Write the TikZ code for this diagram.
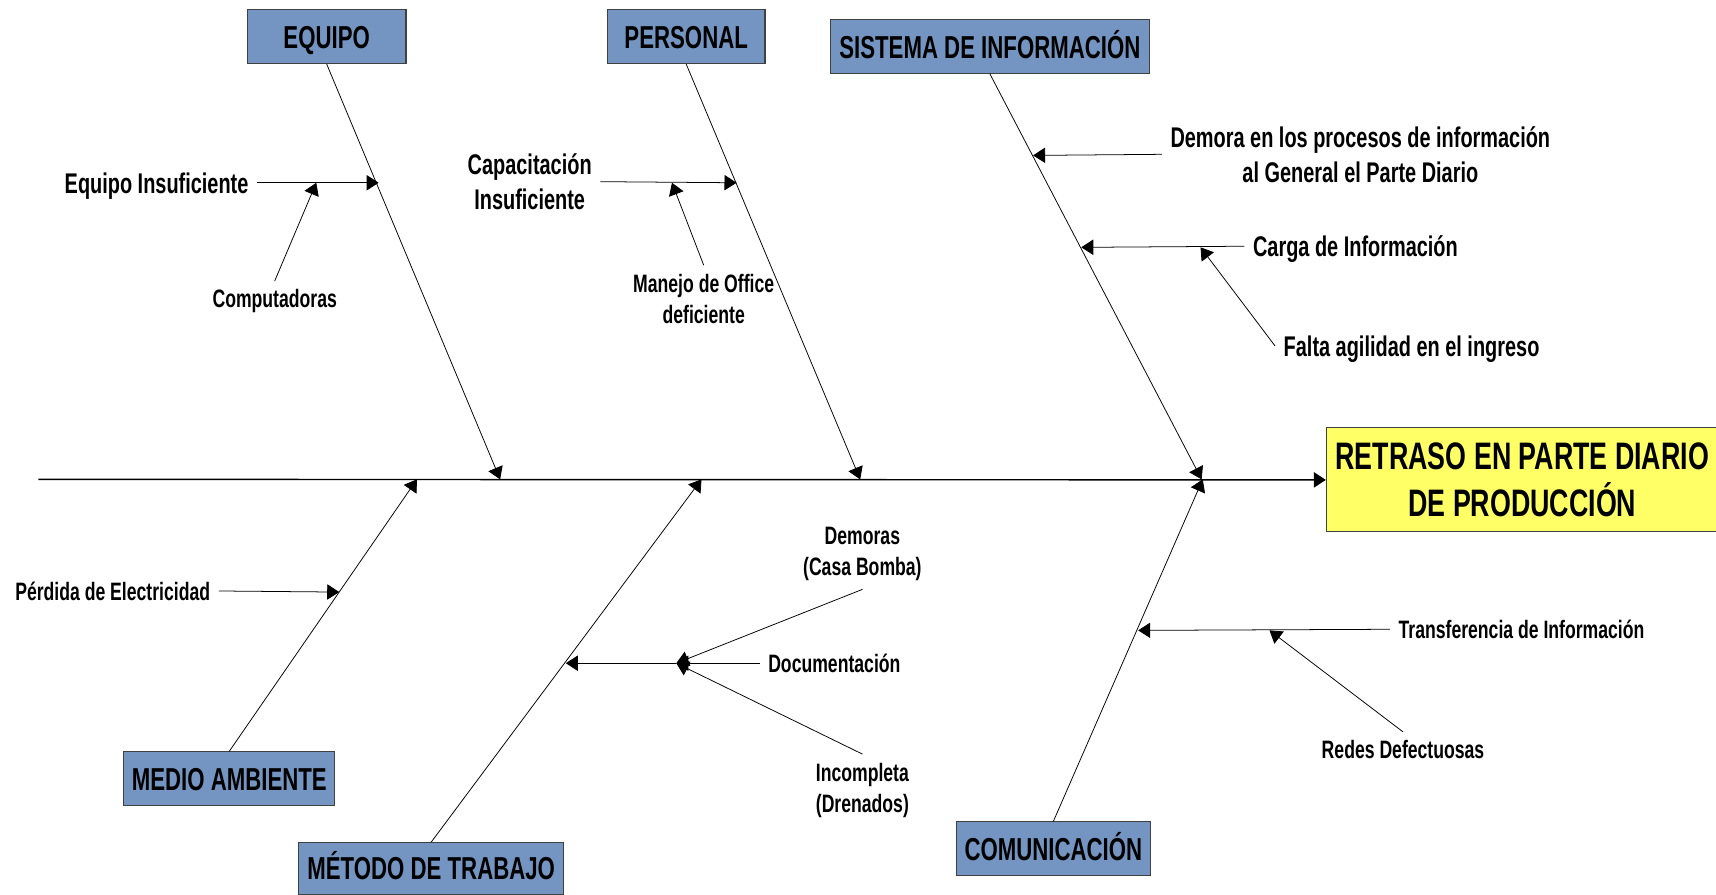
\documentclass[tikz,border=0pt]{standalone}
\usepackage{fontspec}
\setmainfont{Liberation Sans}[FakeStretch=0.7]
\usetikzlibrary{arrows.meta}
\definecolor{catblue}{RGB}{116,149,193}
\definecolor{effyellow}{RGB}{255,255,102}
\begin{document}
\begin{tikzpicture}[x=1pt, y=-1pt, >={Triangle[length=11pt,width=14pt]}, line width=0.7pt,
  cat/.style={draw=black!75, fill=catblue, line width=1pt, minimum height=49pt, inner sep=2pt, text height=21pt, text depth=0pt, font=\bfseries\fontsize{29}{34}\selectfont},
  eff/.style={draw=black!75, fill=effyellow, line width=1pt, minimum height=95pt, minimum width=358pt, align=center, font=\bfseries\fontsize{35}{43}\selectfont},
  cause/.style={align=center, inner sep=4pt, outer sep=4pt, font=\bfseries\fontsize{26}{32}\selectfont},
  subcause/.style={align=center, inner sep=4pt, outer sep=4pt, font=\bfseries\fontsize{23}{28.5}\selectfont},
  oneline/.style={text height=#1, text depth=0pt}]
\useasboundingbox (0,0) rectangle (1568,817);
\node[cat, minimum width=145pt] (eq) at (298.5,33.5) {EQUIPO};
\node[cat, minimum width=144pt] (pe) at (627,33.5) {PERSONAL};
\node[cat, minimum width=291pt] (si) at (904.5,42.5) {SISTEMA DE INFORMACIÓN};
\node[cat, minimum width=193pt] (ma) at (209.5,711.5) {MEDIO AMBIENTE};
\node[cat, minimum width=242pt, minimum height=47pt] (mt) at (394,793.5) {MÉTODO DE TRABAJO};
\node[cat, minimum width=177pt] (co) at (962.5,775.5) {COMUNICACIÓN};
\node[eff] (ef) at (1391,438.5) {RETRASO EN PARTE DIARIO\\DE PRODUCCIÓN};
\coordinate (tail) at (35,438);
\coordinate (cE) at (457,438); \coordinate (cP) at (786,438); \coordinate (cS) at (1098,438);
\coordinate (cM) at (381,438); \coordinate (cT) at (641,438); \coordinate (cC) at (1099,438);
\draw[->, line width=1.3pt] (tail) -- (ef.west);
\draw[->] (eq.south) -- (cE); \draw[->] (pe.south) -- (cP); \draw[->] (si.south) -- (cS);
\draw[->] (ma.north) -- (cM); \draw[->] (mt.north) -- (cT); \draw[->] (co.north) -- (cC);
\node[cause, oneline=19pt, anchor=east] (e1) at (235,167) {Equipo Insuficiente};
\node[subcause, oneline=16.5pt] (e2) at (251,273) {Computadoras};
\coordinate (bE) at (346,167); \coordinate (hE) at (289,167);
\draw[->] (e1.east) -- (bE); \draw[->] (e2.north) -- (hE);
\node[cause] (p1) at (484,166) {Capacitación\\Insuficiente};
\node[subcause] (p2) at (643,273) {Manejo de Office\\deficiente};
\coordinate (bP) at (673,167); \coordinate (hP) at (614,167);
\draw[->] (p1.east) -- (bP); \draw[->] (p2.north) -- (hP);
\node[cause] (s1) at (1243,141) {Demora en los procesos de información\\al General el Parte Diario};
\node[cause, oneline=19pt, anchor=west] (s2) at (1137,225) {Carga de Información};
\node[cause, oneline=19pt, anchor=west] (s3) at (1165,316) {Falta agilidad en el ingreso};
\coordinate (bS1) at (944,142); \coordinate (bS2) at (988,226); \coordinate (hS) at (1097,226);
\draw[->] (s1.west) -- (bS1); \draw[->] (s2.west) -- (bS2); \draw[->] (s3.west) -- (hS);
\node[subcause, oneline=16.5pt, anchor=east] (m1) at (200,540) {Pérdida de Electricidad};
\coordinate (bM) at (310,541);
\draw[->] (m1.east) -- (bM);
\node[subcause, oneline=16.5pt, anchor=west] (t1) at (694,606) {Documentación};
\node[subcause] (t2) at (788,506) {Demoras\\(Casa Bomba)};
\node[subcause] (t3) at (788,722) {Incompleta\\(Drenados)};
\coordinate (j) at (618,606); \coordinate (bT) at (517,606);
\draw[->] (t1.west) -- (j); \draw[->] (t2.south) -- (j); \draw[->] (t3.north) -- (j);
\draw[->] (j) -- (bT);
\node[subcause, oneline=16.5pt, anchor=west] (c1) at (1270,575) {Transferencia de Información};
\node[subcause, oneline=16.5pt] (c2) at (1282,685) {Redes Defectuosas};
\coordinate (bC) at (1040,576); \coordinate (hC) at (1160,576);
\draw[->] (c1.west) -- (bC); \draw[->] (c2.north) -- (hC);
\end{tikzpicture}
\end{document}
